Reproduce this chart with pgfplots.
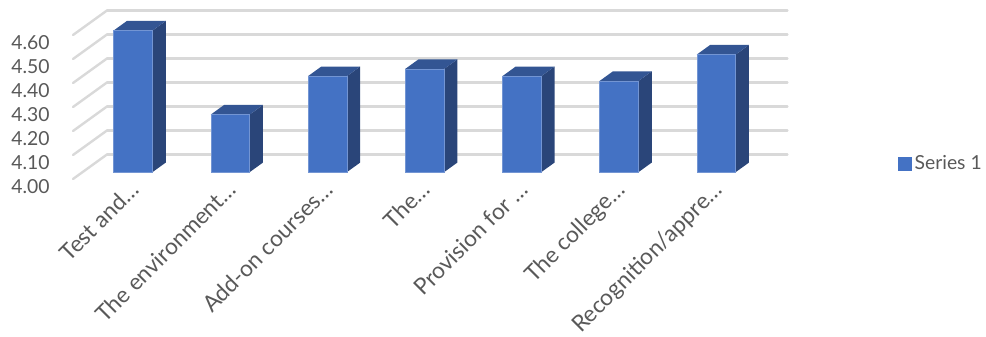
\documentclass[border=0pt]{standalone}
\usepackage{fontspec}
\setmainfont{Lato}
\usepackage{pgfplots}
\pgfplotsset{compat=1.18}

\definecolor{barfront}{HTML}{4472C4}
\definecolor{bartop}{HTML}{335593}
\definecolor{barside}{HTML}{2A4579}
\definecolor{gridgray}{HTML}{D9D9D9}
\definecolor{textgray}{HTML}{595959}

% one oblique bar: category index, value
\newcommand{\obar}[2]{%
    \pgfmathsetmacro{\xa}{#1+0.32}%
    \pgfmathsetmacro{\xb}{#1+0.72}%
    \edef\doplot{%
        \noexpand\addplot3[fill=barside,draw=none,forget plot] coordinates {(\xb,0.28,4) (\xb,0.67,4) (\xb,0.67,#2) (\xb,0.28,#2)} --cycle;
        \noexpand\addplot3[fill=bartop,draw=none,forget plot] coordinates {(\xa,0.28,#2) (\xb,0.28,#2) (\xb,0.67,#2) (\xa,0.67,#2)} --cycle;
        \noexpand\addplot3[fill=barfront,draw=barfront!75!white,line width=0.4pt,forget plot] coordinates {(\xa,0.28,4) (\xb,0.28,4) (\xb,0.28,#2) (\xa,0.28,#2)} --cycle;
    }%
    \doplot
}

\begin{document}
\begin{tikzpicture}
    \path[use as bounding box] (0,0) rectangle (739.5pt,252pt);
    \begin{axis}[
            at={(54.75pt,117.75pt)},
            anchor=origin,
            x={(72.9pt,0pt)},
            y={(25.5pt,18.4pt)},
            z={(0pt,180pt)},
            xmin=0, xmax=7,
            ymin=0, ymax=1,
            zmin=4, zmax=4.6,
            clip=false,
            axis line style={draw=none},
            major tick length=0pt,
            xtick={0.5,1.5,2.5,3.5,4.5,5.5,6.5},
            xticklabels={Test and\dots,The environment\dots,Add-on courses\dots,The\dots,Provision for \dots,The college\dots,Recognition/appre\dots},
            ytick=\empty,
            ztick={4,4.1,4.2,4.3,4.4,4.5,4.6},
            zmajorgrids=true,
            grid style={gridgray,line width=1.8pt,line cap=round},
            tick label style={text=textgray},
            xticklabel style={font=\fontsize{17pt}{19pt}\selectfont,rotate=45,anchor=base east,inner sep=0pt,xshift=3.5pt,yshift=-16.5pt},
            zticklabel style={font=\fontsize{14.5pt}{16pt}\selectfont,xshift=-14pt,
                /pgf/number format/fixed,/pgf/number format/zerofill,/pgf/number format/precision=2,
                /pgf/number format/assume math mode=true},
            legend style={at={(1.155,0.092)},anchor=west,draw=none,fill=none,
                font=\fontsize{14.5pt}{16pt}\selectfont,text=textgray,inner sep=0pt},
            legend image code/.code={\fill[#1] (0pt,-4.9pt) rectangle (9.8pt,4.9pt);},
        ]

        \addlegendimage{barfront}
        \addlegendentry{Series 1}

        \obar{0}{4.59}
        \obar{1}{4.24}
        \obar{2}{4.40}
        \obar{3}{4.43}
        \obar{4}{4.40}
        \obar{5}{4.38}
        \obar{6}{4.49}

    \end{axis}
\end{tikzpicture}
\end{document}
